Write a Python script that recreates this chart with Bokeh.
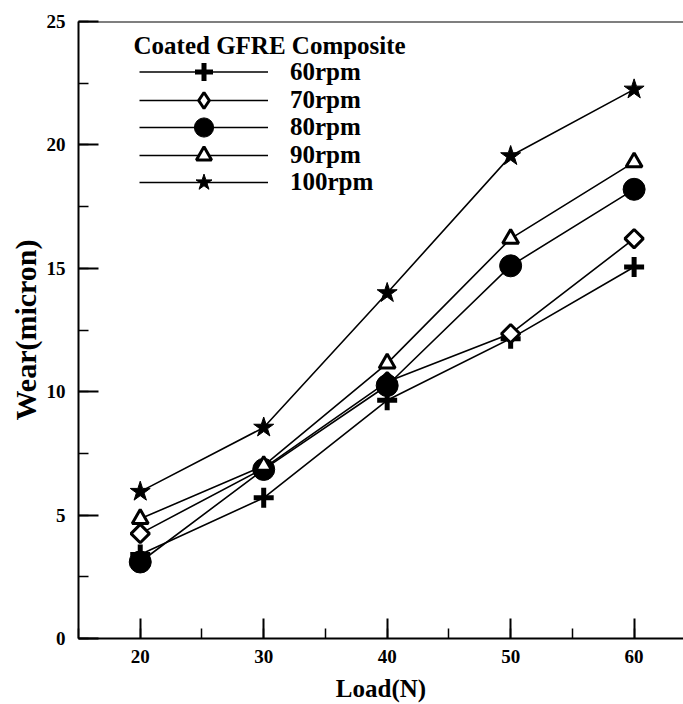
import math
from bokeh.plotting import figure
from bokeh.models import Range1d, SingleIntervalTicker, Legend, LegendItem, Span, Label
from bokeh.embed import file_html
from bokeh.resources import INLINE

# ---- data ----
load = [20, 30, 40, 50, 60]
wear_60rpm = [3.4, 5.7, 9.65, 12.15, 15.05]
wear_70rpm = [4.25, 6.9, 10.4, 12.35, 16.2]
wear_80rpm = [3.1, 6.85, 10.25, 15.1, 18.2]
wear_90rpm = [4.85, 7.0, 11.15, 16.2, 19.3]
wear_100rpm = [5.95, 8.55, 14.0, 19.55, 22.25]
series_labels = ["60rpm", "70rpm", "80rpm", "90rpm", "100rpm"]
legend_title = "Coated GFRE Composite"
x_title = "Load(N)"
y_title = "Wear(micron)"

FONT = "Liberation Serif"
FRAME_BOTTOM = 638  # page y of the frame bottom (canvas starts at 0,0)

p = figure(width=683, height=704, output_backend="svg", toolbar_location=None,
           x_range=Range1d(15, 64), y_range=Range1d(0, 25),
           min_border_left=78, min_border_right=0, min_border_top=21,
           min_border_bottom=66)
p.outline_line_color = None
p.grid.grid_line_color = None
p.background_fill_color = "white"

for ax in (p.xaxis[0], p.yaxis[0]):
    ax.axis_line_color = "black"
    ax.axis_line_width = 2
    ax.major_tick_in = 20
    ax.major_tick_out = 0
    ax.minor_tick_in = 10
    ax.minor_tick_out = 0
    ax.major_tick_line_width = 2
    ax.minor_tick_line_width = 1.5
    ax.major_tick_line_color = "black"
    ax.minor_tick_line_color = "black"
    ax.major_label_text_font = FONT
    ax.major_label_text_font_style = "bold"
    ax.major_label_text_font_size = "19px"
    ax.major_label_text_color = "black"
    ax.axis_label_text_font = FONT
    ax.axis_label_text_font_style = "bold"
    ax.axis_label_text_color = "black"

p.xaxis.ticker = SingleIntervalTicker(interval=10, num_minor_ticks=2)
p.yaxis.ticker = SingleIntervalTicker(interval=5, num_minor_ticks=2)
p.xaxis.axis_label = x_title
p.yaxis.axis_label = y_title
p.xaxis.axis_label_text_font_size = "25px"
p.yaxis.axis_label_text_font_size = "30px"
p.xaxis.major_label_standoff = 11
p.yaxis.major_label_standoff = 13
p.xaxis.axis_label_standoff = 9
p.yaxis.axis_label_standoff = 2

# top border line of the frame
p.add_layout(Span(location=25, dimension="width", line_color="black", line_width=2))

series = [wear_60rpm, wear_70rpm, wear_80rpm, wear_90rpm, wear_100rpm]
styles = [
    dict(marker="cross", size=20, line_width=5, line_color="black", fill_color="black"),
    dict(marker="square", size=13, angle=math.pi / 4, line_width=3, line_color="black", fill_color="white"),
    dict(marker="circle", size=22, line_width=1, line_color="black", fill_color="black"),
    dict(marker="triangle", size=16, line_width=3, line_color="black", fill_color="white"),
    dict(marker="star", size=21, line_width=1, line_color="black", fill_color="black"),
]
# legend layout: row centres (page px) and swatch box heights (marker = 0.4 * height)
row_centres = [72, 99.5, 127, 154.5, 182]
swatch_heights = [45, 40, 48, 38, 42]

for lab, ys, st, yc, gh in zip(series_labels, series, styles, row_centres, swatch_heights):
    lr = p.line(load, ys, line_color="black", line_width=1.6)
    sr = p.scatter(load, ys, **st)
    rends = [lr, sr]
    if st["marker"] == "square":
        # legend swatch drawn as a diamond (the legend ignores marker angle)
        dr = p.scatter(load, ys, marker="diamond", size=16, line_width=3,
                       line_color="black", fill_color="white", visible=False)
        rends = [lr, dr]
    lg = Legend(items=[LegendItem(label=lab, renderers=rends)],
                location=(61, int(round(FRAME_BOTTOM - yc - gh / 2))),
                glyph_width=129, glyph_height=gh, label_height=gh, spacing=0,
                label_standoff=22, padding=0, margin=0,
                border_line_color=None, background_fill_alpha=0,
                label_text_font=FONT, label_text_font_style="bold",
                label_text_font_size="25px", label_text_color="black")
    p.add_layout(lg, "center")

p.add_layout(Label(x=55, y=FRAME_BOTTOM - 45, x_units="screen", y_units="screen",
                   text=legend_title, text_baseline="middle", text_align="left",
                   text_font=FONT, text_font_style="bold", text_font_size="25px",
                   text_color="black"))

open("out.html", "w").write(file_html(p, INLINE))
